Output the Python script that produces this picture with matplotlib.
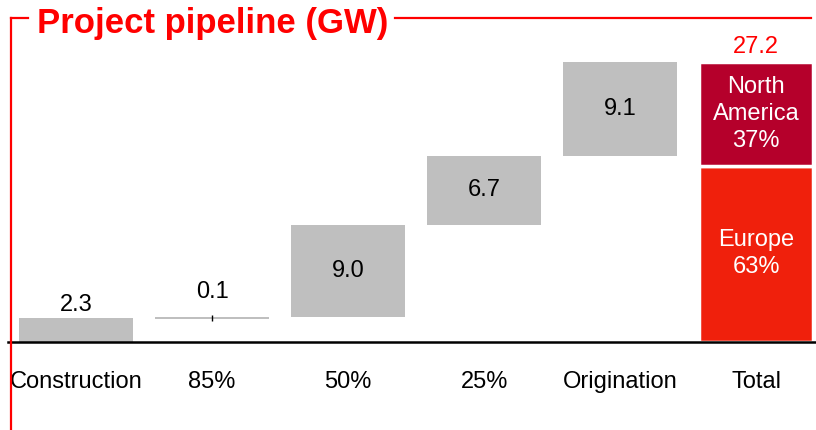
import matplotlib.pyplot as plt
from matplotlib.lines import Line2D

plt.rcParams["font.family"] = ["Liberation Sans", "DejaVu Sans"]

categories = ["Construction", "85%", "50%", "25%", "Origination", "Total"]
steps = [2.3, 0.1, 9.0, 6.7, 9.1]
total = 27.2
regions = ["Europe", "North\nAmerica"]
region_shares = [63, 37]

GREY = "#BFBFBF"
RED = "#FF0000"
REGION_COLORS = ["#F0200C", "#B5002B"]
FS = 17

fig = plt.figure(figsize=(8.16, 4.30), dpi=100)
ax = fig.add_axes([8 / 816, 88 / 430, 808 / 816, 312 / 430])

# waterfall steps
bottoms = []
running = 0.0
for v in steps:
    bottoms.append(running)
    running += v

width = 0.84
for i, (v, b) in enumerate(zip(steps, bottoms)):
    h = v if v >= 0.5 else 0.2
    ax.bar(i, h, bottom=b + v - h, width=width, color=GREY, linewidth=0)
    if i == 0:
        ax.annotate(f"{v:.1f}", (i, b + v), xytext=(0, 2), textcoords="offset points",
                    ha="center", va="bottom", fontsize=FS)
    elif v < 0.5:
        ax.vlines(i, b + v - 0.35, b + v + 0.25, color="black", linewidth=1)
        ax.annotate(f"{v:.1f}", (i, b + v), xytext=(0, 10), textcoords="offset points",
                    ha="center", va="bottom", fontsize=FS)
    else:
        ax.text(i, b + v / 2, f"{v:.1f}", ha="center", va="center", fontsize=FS)

# total split by region
ti = len(steps)
base = 0.0
for name, share, col in zip(regions, region_shares, REGION_COLORS):
    h = total * share / 100
    ax.bar(ti, h, bottom=base, width=width, color=col, edgecolor="white", linewidth=2.5)
    ax.text(ti, base + h / 2, f"{name}\n{share}%", ha="center", va="center",
            fontsize=FS, color="white", linespacing=1.3)
    base += h
ax.annotate(f"{total:.1f}", (ti, total), xytext=(0, 3), textcoords="offset points",
            ha="center", va="bottom", fontsize=FS, color=RED)

ax.set_xlim(-0.5, 5.44)
ax.set_ylim(0, 30.3)
ax.set_xticks(range(len(categories)))
ax.set_xticklabels(categories, fontsize=FS)
ax.tick_params(axis="x", length=0, pad=21)
ax.set_yticks([])
for side in ["top", "right", "left"]:
    ax.spines[side].set_visible(False)
ax.spines["bottom"].set_linewidth(1.8)
ax.spines["bottom"].set_color("black")

# red frame with title
fx = lambda px: px / 816
fy = lambda py: 1 - py / 430
frame = [
    ([fx(11), fx(11)], [fy(18), fy(430)]),
    ([fx(11), fx(28)], [fy(18), fy(18)]),
    ([fx(395), fx(811)], [fy(18), fy(18)]),
]
for xs, ys in frame:
    fig.add_artist(Line2D(xs, ys, color=RED, linewidth=1.6))
fig.text(fx(37), fy(23), "Project pipeline (GW)", color=RED, fontsize=25,
         fontweight="bold", ha="left", va="center")

fig.savefig("out.png", dpi=100)
